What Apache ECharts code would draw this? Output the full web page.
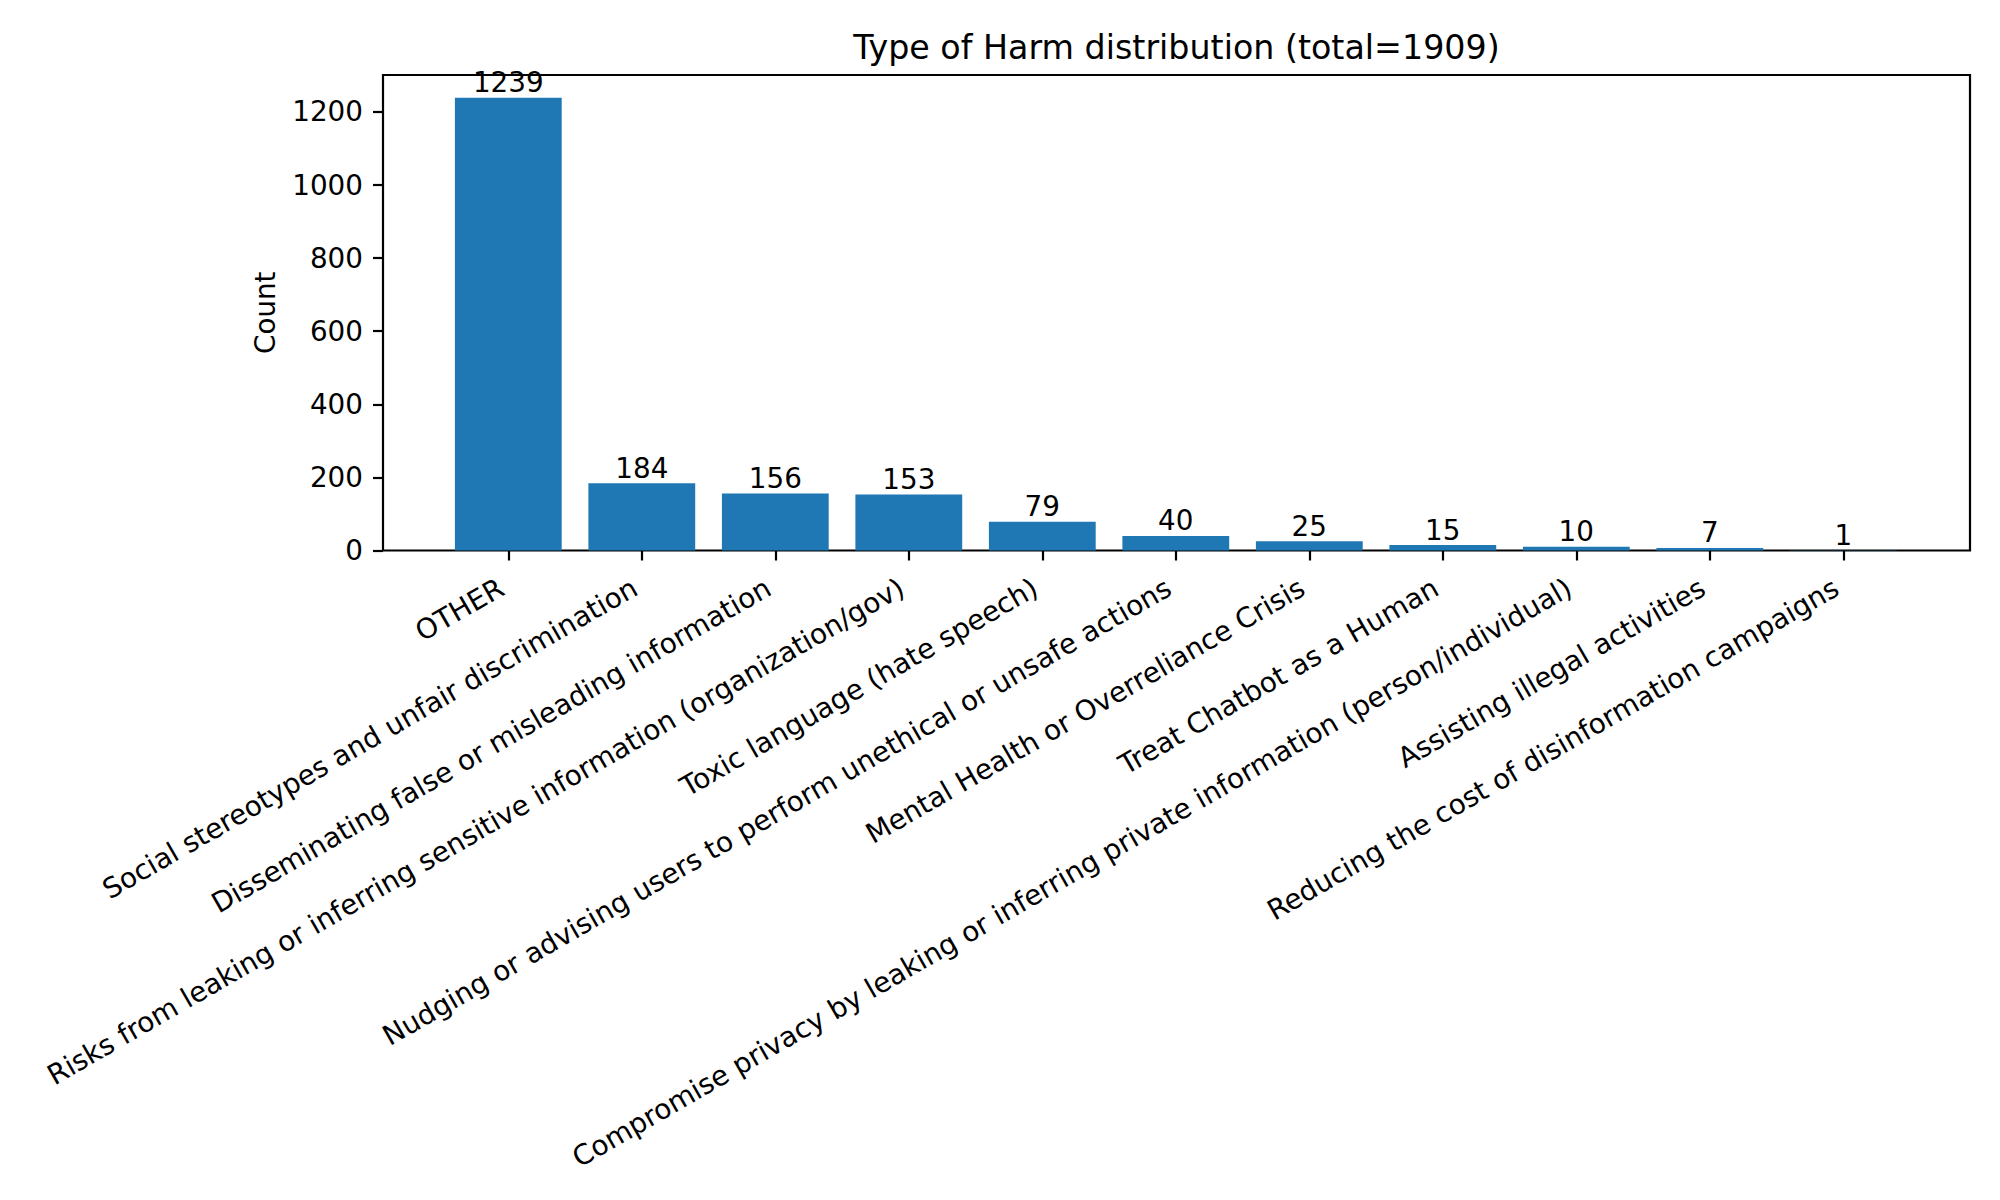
<!DOCTYPE html>
<html lang="en">
<head>
  <meta charset="UTF-8">
  <title>Type of Harm distribution</title>
  <script src="https://cdn.jsdelivr.net/npm/echarts@6.0.0/dist/echarts.min.js"></script>
  <style>
    html, body { margin: 0; padding: 0; background: #fff; }
  </style>
</head>
<body>
<div id="main" style="width: 2000px;height:1200px;"></div>
<script type="text/javascript">

  // data
  const harmTypes = [
    'OTHER',
    'Social stereotypes and unfair discrimination',
    'Disseminating false or misleading information',
    'Risks from leaking or inferring sensitive information (organization/gov)',
    'Toxic language (hate speech)',
    'Nudging or advising users to perform unethical or unsafe actions',
    'Mental Health or Overreliance Crisis',
    'Treat Chatbot as a Human',
    'Compromise privacy by leaking or inferring private information (person/individual)',
    'Assisting illegal activities',
    'Reducing the cost of disinformation campaigns'
  ];
  const counts = [1239, 184, 156, 153, 79, 40, 25, 15, 10, 7, 1];
  const yTicks = [0, 200, 400, 600, 800, 1000, 1200];
  const total = 1909;

  const font = 'DejaVu Sans';
  const black = '#000';
  const fs = 27.8;

  // frame of the axes (matplotlib style), bars sit in an inner grid
  const frame = {left: 383, top: 75, width: 1587, height: 475.5};
  const band = 133.5;
  const inner = {left: 508.3 - band / 2, top: frame.top, width: band * harmTypes.length, height: frame.height};

  var myChart = echarts.init(document.getElementById('main'), null, {renderer: 'svg'});

  myChart.setOption({
    backgroundColor: '#fff',
    animation: false,
    textStyle: {fontFamily: font},
    graphic: [
      {
        type: 'text',
        x: frame.left + frame.width / 2,
        y: 47,
        style: {
          text: 'Type of Harm distribution (total=' + total + ')',
          fontFamily: font, fontSize: 33.3, fill: black,
          align: 'center', verticalAlign: 'middle'
        }
      },
      {
        type: 'text',
        x: 265,
        y: frame.top + frame.height / 2,
        rotation: Math.PI / 2,
        style: {
          text: 'Count',
          fontFamily: font, fontSize: fs, fill: black,
          align: 'center', verticalAlign: 'middle'
        }
      }
    ],
    grid: [
      {left: frame.left, top: frame.top, width: frame.width, height: frame.height,
        containLabel: false, outerBoundsMode: 'none',
        show: true, borderColor: black, borderWidth: 2.2, backgroundColor: 'transparent'},
      {left: inner.left, top: inner.top, width: inner.width, height: inner.height,
        containLabel: false, outerBoundsMode: 'none'}
    ],
    xAxis: [
      {gridIndex: 0, type: 'value', min: 0, max: 1, show: false},
      {
        gridIndex: 1,
        type: 'category',
        data: harmTypes,
        axisLine: {show: false},
        axisTick: {show: true, alignWithLabel: true, length: 10, lineStyle: {color: black, width: 2.2}},
        axisLabel: {rotate: 30, margin: 31, padding: [0, 8, 0, 0], fontSize: fs, color: black,
          fontFamily: font, interval: 0},
        splitLine: {show: false}
      }
    ],
    yAxis: [
      {
        gridIndex: 0,
        type: 'value',
        min: 0,
        max: 1301,
        interval: 200,
        axisLine: {show: false},
        axisTick: {show: true, length: 10, lineStyle: {color: black, width: 2.2}, customValues: yTicks},
        axisLabel: {fontSize: fs, color: black, fontFamily: font, margin: 20, customValues: yTicks,
          formatter: function (v) { return String(v); }},
        splitLine: {show: false}
      },
      {gridIndex: 1, type: 'value', min: 0, max: 1301, show: false}
    ],
    series: [
      {
        name: 'Count',
        type: 'bar',
        xAxisIndex: 1,
        yAxisIndex: 1,
        data: counts,
        barWidth: '80%',
        itemStyle: {color: '#1f77b4'},
        label: {show: true, position: 'top', distance: 1, fontSize: fs, color: black, fontFamily: font}
      }
    ]
  });

</script>
</body>
</html>
